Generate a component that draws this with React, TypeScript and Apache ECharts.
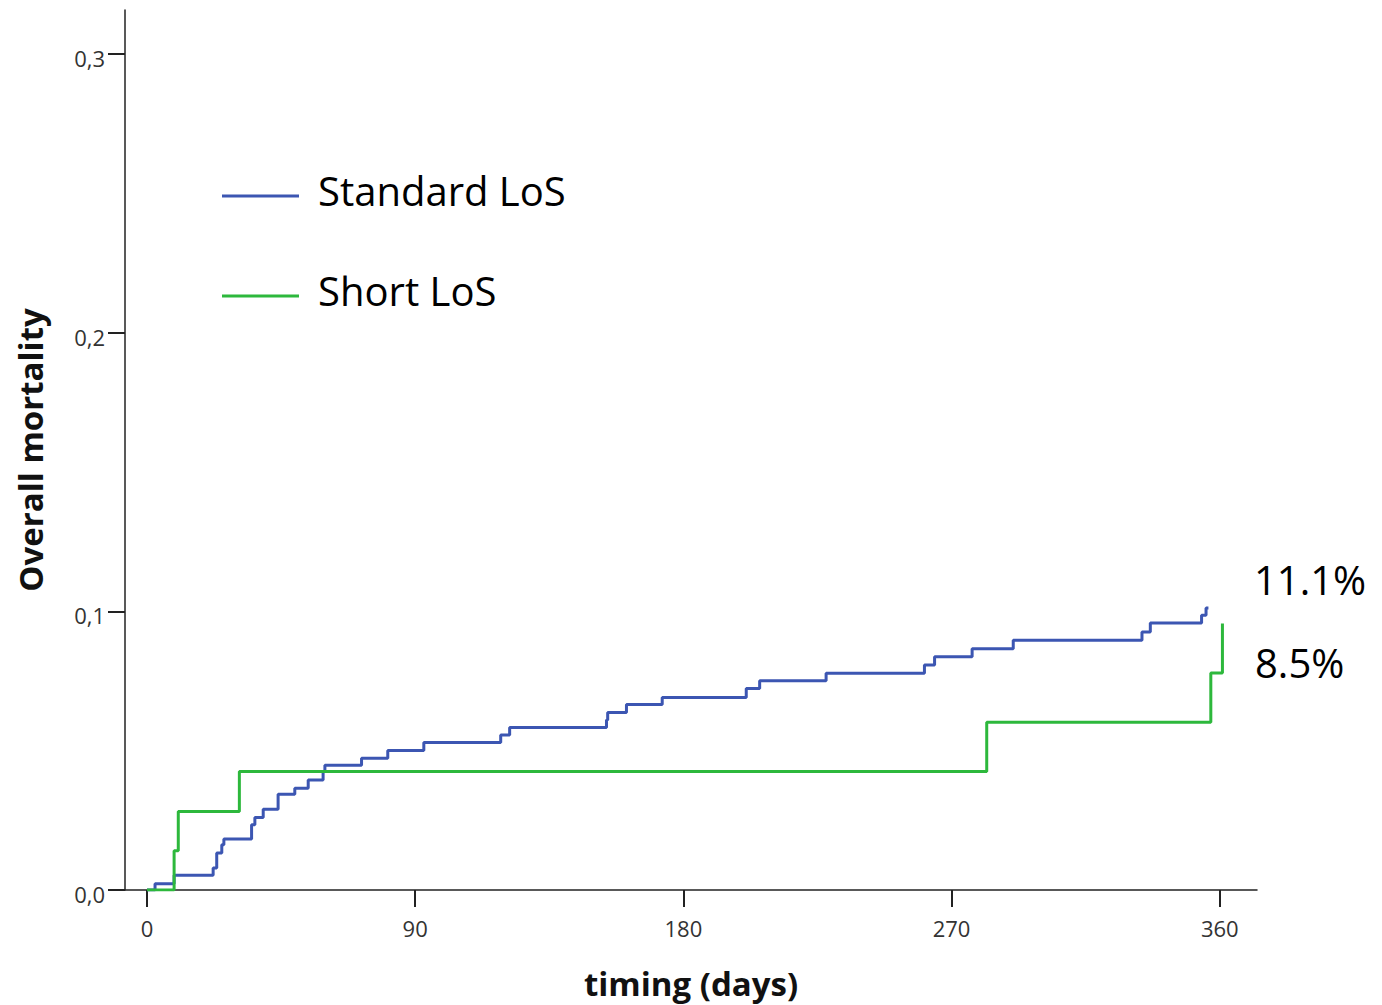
import React, { useEffect, useRef } from "react";
import * as echarts from "echarts";

// Standard LoS: [day, cumulative mortality] at each event
const standardDays = [0, 2.7, 9.1, 22.2, 23.4, 25.1, 25.8, 35.1, 36.2, 39.0, 44.0, 49.6, 54.1, 59.1, 59.7, 72.0, 80.8, 92.9, 118.7, 121.7, 154.2, 154.6, 160.9, 172.9, 201.1, 205.6, 227.9, 260.9, 264.3, 276.9, 290.7, 333.9, 336.7, 353.9, 355.4, 356.2];
const standardValues = [0, 0.0022, 0.0053, 0.0079, 0.0133, 0.0162, 0.0183, 0.0234, 0.026, 0.029, 0.0344, 0.0365, 0.0395, 0.0425, 0.0448, 0.0473, 0.0501, 0.0529, 0.0556, 0.0583, 0.061, 0.0637, 0.0666, 0.0691, 0.0723, 0.0751, 0.0778, 0.0807, 0.0837, 0.0866, 0.0896, 0.0926, 0.0958, 0.0986, 0.1012, 0.1012];

// Short LoS
const shortDays = [0, 9.1, 10.5, 31.0, 281.8, 357.0, 360.9];
const shortValues = [0, 0.0141, 0.0282, 0.0425, 0.0602, 0.0779, 0.0956];

const xTicks = [0, 90, 180, 270, 360];
const yTicks = [0, 0.1, 0.2, 0.3];
const yTickLabels = ["0,0", "0,1", "0,2", "0,3"];
const seriesNames = ["Standard LoS", "Short LoS"];
const endLabels = ["11.1%", "8.5%"];

const BLUE = "#3C56B2";
const GREEN = "#2DB83C";
const FONT = "Open Sans";

export default function App() {
  const ref = useRef<HTMLDivElement>(null);
  useEffect(() => {
    if (!ref.current) return;
    const chart = echarts.init(ref.current, null, { renderer: "svg" });
    const axisLine = { show: true, lineStyle: { color: "#222", width: 1.5 } };
    chart.setOption({
      animation: false,
      backgroundColor: "#fff",
      grid: { left: 125, right: 125, top: 10, bottom: 113 },
      xAxis: {
        type: "value",
        min: -7.38,
        max: 372.5,
        name: "timing (days)",
        nameLocation: "middle",
        nameGap: 77,
        nameTextStyle: { fontFamily: FONT, fontWeight: "bold", fontSize: 33, color: "#111" },
        axisLine: { ...axisLine, onZero: false },
        axisTick: { show: true, length: 17, inside: false, customValues: xTicks, lineStyle: { color: "#222", width: 2 } },
        axisLabel: {
          customValues: xTicks,
          margin: 27,
          fontFamily: FONT,
          fontSize: 22,
          color: "#333",
        },
        splitLine: { show: false },
      },
      yAxis: {
        type: "value",
        min: 0,
        max: 0.3158,
        name: "Overall mortality",
        nameLocation: "middle",
        nameRotate: 90,
        nameGap: 78,
        nameTextStyle: { fontFamily: FONT, fontWeight: "bold", fontSize: 33, color: "#111" },
        axisLine: { ...axisLine, onZero: false },
        axisTick: { show: true, length: 17, inside: false, customValues: yTicks, lineStyle: { color: "#222", width: 2 } },
        axisLabel: {
          customValues: yTicks,
          margin: 20,
          fontFamily: FONT,
          fontSize: 22,
          color: "#333",
          formatter: (v: number) => {
            const i = yTicks.findIndex((t) => Math.abs(t - v) < 1e-9);
            return i >= 0 ? "{a|" + yTickLabels[i] + "}" : "";
          },
          rich: {
            a: { fontFamily: FONT, fontSize: 22, color: "#333", padding: [8, 0, 0, 0] },
          },
        },
        splitLine: { show: false },
      },
      legend: {
        orient: "vertical",
        left: 222,
        top: 170,
        padding: 0,
        itemWidth: 77,
        itemHeight: 3,
        itemGap: 60,
        icon: "rect",
        formatter: (name: string) => "{t|" + name + "}",
        textStyle: {
          fontFamily: FONT,
          fontSize: 40,
          color: "#000",
          rich: {
            t: { fontFamily: FONT, fontSize: 40, color: "#000", padding: [0, 0, 12, 14] },
          },
        },
        data: seriesNames,
      },
      graphic: [
        {
          type: "text",
          left: 1254,
          top: 559,
          style: { text: endLabels[0], fontFamily: FONT, fontSize: 40, fill: "#000" },
        },
        {
          type: "text",
          left: 1255,
          top: 642,
          style: { text: endLabels[1], fontFamily: FONT, fontSize: 40, fill: "#000" },
        },
      ],
      series: [
        {
          name: seriesNames[0],
          type: "line",
          step: "end",
          showSymbol: false,
          color: BLUE,
          lineStyle: { color: BLUE, width: 3 },
          data: standardDays.map((d, i) => [d, standardValues[i]]),
          z: 2,
        },
        {
          name: seriesNames[1],
          type: "line",
          step: "end",
          showSymbol: false,
          color: GREEN,
          lineStyle: { color: GREEN, width: 3 },
          data: shortDays.map((d, i) => [d, shortValues[i]]),
          z: 3,
        },
      ],
    });
    return () => chart.dispose();
  }, []);
  return (
    <div
      ref={ref}
      style={{ position: "absolute", left: 0, top: 0, width: 1382, height: 1005 }}
    />
  );
}
